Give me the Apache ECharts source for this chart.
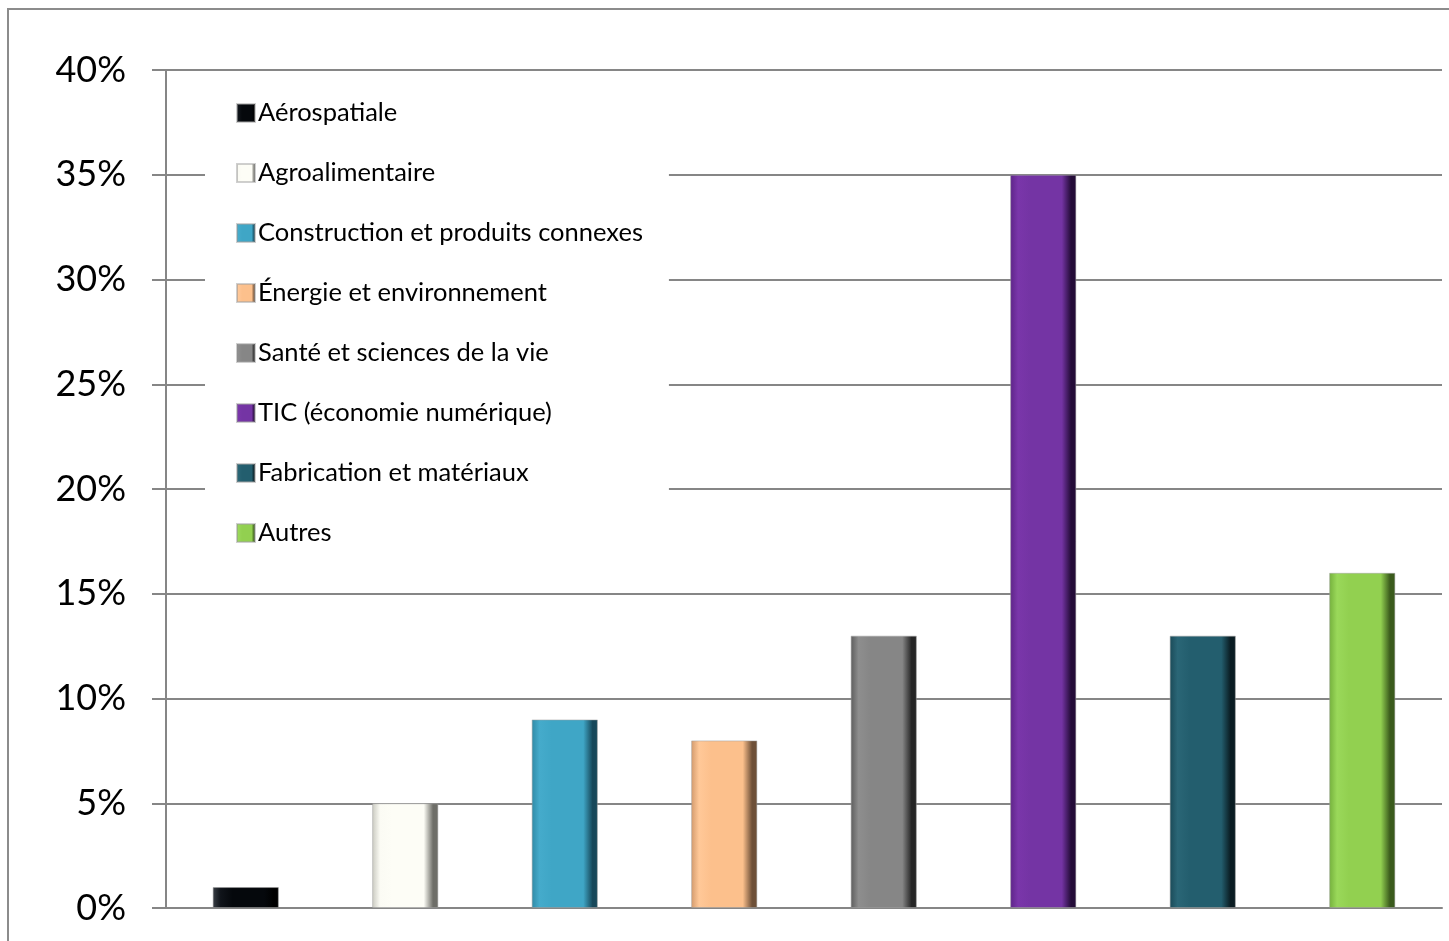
<!DOCTYPE html>
<html>
<head>
<meta charset="utf-8">
<script src="https://cdn.jsdelivr.net/npm/echarts@6/dist/echarts.min.js"></script>
<style>html,body{margin:0;padding:0;background:#fff;}#c{width:1449px;height:941px;}</style>
</head>
<body>
<div id="c"></div>
<script>
const categories = ['Aérospatiale','Agroalimentaire','Construction et produits connexes','Énergie et environnement','Santé et sciences de la vie','TIC (économie numérique)','Fabrication et matériaux','Autres'];
const values = [1, 5, 9, 8, 13, 35, 13, 16];
const yTicks = [0, 5, 10, 15, 20, 25, 30, 35, 40];
const colors = [
  ['#3a3f46','#10141a','#05080c','#000000'],
  ['#c9c9c0','#fbfbf4','#fdfdf6','#6e6e68'],
  ['#2f8aa6','#45abcb','#3fa6c6','#17485a'],
  ['#d39a6c','#ffc898','#fcc08c','#6e5038'],
  ['#5c5c5c','#8e8e8e','#868686','#262626'],
  ['#5d2488','#7a36aa','#7434a4','#240c38'],
  ['#1a4a58','#2a6676','#235e6e','#0a1c22'],
  ['#74b03c','#9ad85a','#92d050','#3a5a1c']
];
function grad(c){
  return new echarts.graphic.LinearGradient(0,0,1,0,[
    {offset:0,color:c[0]},{offset:0.12,color:c[1]},{offset:0.3,color:c[2]},
    {offset:0.78,color:c[2]},{offset:0.92,color:c[3]},{offset:1,color:c[3]}
  ]);
}
const series = categories.map((name,i)=>({
  name: name,
  type: 'bar',
  stack: 'all',
  barWidth: '41.5%',
  data: values.map((v,j)=> j===i ? v : '-'),
  itemStyle: {color: grad(colors[i]), borderColor: 'rgba(160,160,160,0.5)', borderWidth: 1}
}));
const chart = echarts.init(document.getElementById('c'), null, {renderer:'canvas'});
chart.setOption({
  animation: false,
  color: colors.map(c=>c[2]),
  graphic: [{type:'rect', shape:{x:8,y:9,width:1500,height:1000}, style:{fill:'none',stroke:'#8c8c8c',lineWidth:2}, silent:true, z:-1}],
  grid: {left:166, right:7, top:70, bottom:33},
  legend: {
    orient:'vertical', left:205, top:80,
    padding:[18,26,12,31],
    backgroundColor:'#ffffff',
    itemWidth:18, itemHeight:18, itemGap:30,
    icon:'rect',
    data: categories,
    textStyle:{fontFamily:'Lato', fontSize:25.5, color:'#000', lineHeight:30, padding:[0,0,0,-2]}
  },
  xAxis: {
    type:'category', data: categories,
    axisLine:{show:true, lineStyle:{color:'#868686', width:2}},
    axisTick:{show:false}, axisLabel:{show:false}
  },
  yAxis: {
    type:'value', min:yTicks[0], max:yTicks[yTicks.length-1], interval:5,
    axisLine:{show:true, lineStyle:{color:'#868686', width:2}},
    axisTick:{show:true, length:14, lineStyle:{color:'#868686', width:2}},
    splitLine:{show:true, lineStyle:{color:'#868686', width:2}},
    axisLabel:{formatter:'{value}%', fontFamily:'Lato', fontSize:36, color:'#000', margin:40}
  },
  series: series
});
</script>
</body>
</html>
